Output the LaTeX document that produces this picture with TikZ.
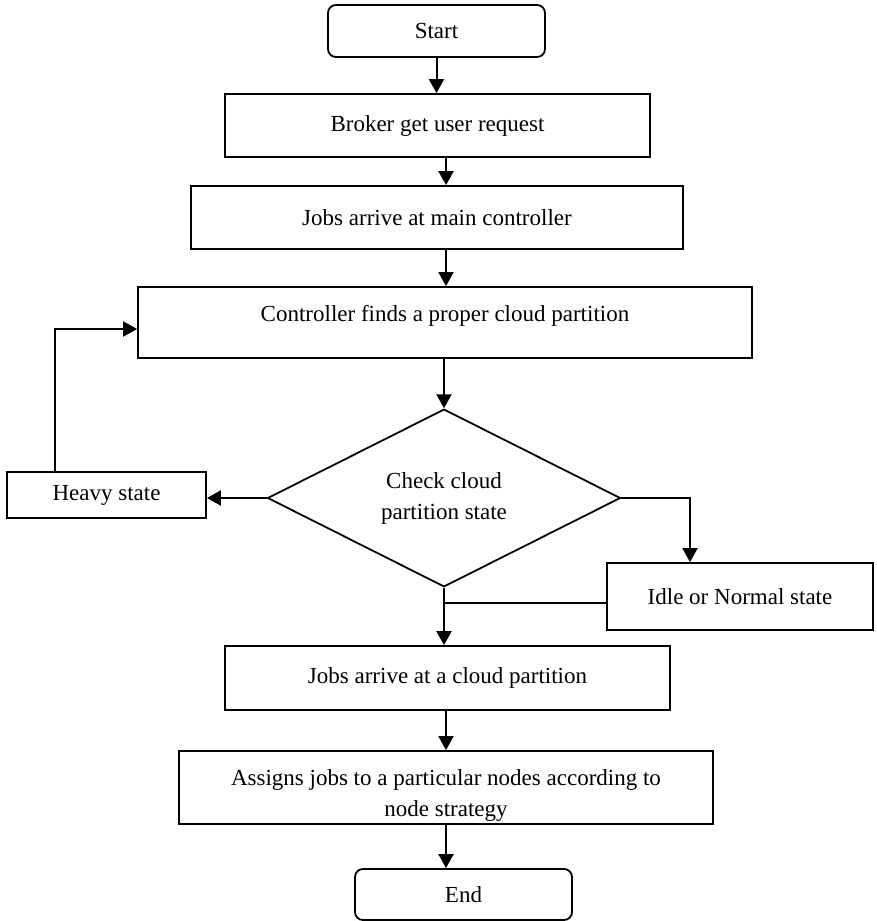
\documentclass[tikz,border=0pt]{standalone}
\usepackage{fontspec}
\setmainfont{Liberation Serif}
\usetikzlibrary{shapes.geometric,arrows.meta}

\begin{document}
\begin{tikzpicture}[x=1pt, y=-1pt,
    box/.style={draw, rectangle, line width=1.8pt, inner sep=0pt, align=center,
        font=\fontsize{23}{31}\selectfont},
    term/.style={box, rounded corners=8pt},
    decision/.style={draw, diamond, line width=1.8pt, inner sep=0pt, align=center,
        font=\fontsize{23}{31}\selectfont},
    arr/.style={line width=2pt, -{Triangle[length=14pt,width=15pt]}},
    plain/.style={line width=1.8pt}]
    \useasboundingbox (0,0) rectangle (876,921);

    % Main flow
    \node[term, minimum width=217pt, minimum height=52pt] (start) at (436.5,31) {Start};
    \node[box, minimum width=425pt, minimum height=63pt] (broker) at (437.5,125.5) {Broker get user request};
    \node[box, minimum width=492pt, minimum height=63pt] (jobs) at (437,217.5) {Jobs arrive at main controller};
    \node[box, minimum width=614pt, minimum height=71pt, text depth=19pt] (ctrl) at (445,322.5) {Controller finds a proper cloud partition};
    \node[decision, minimum width=353pt, minimum height=177pt] (check) at (444,498) {Check cloud\\partition state};
    \node[box, minimum width=445pt, minimum height=64pt] (part) at (447.5,678) {Jobs arrive at a cloud partition};
    \node[box, minimum width=534pt, minimum height=73pt, text height=62pt] (assign) at (446,787.5) {Assigns jobs to a particular nodes according to\\node strategy};
    \node[term, minimum width=217pt, minimum height=51pt] (end) at (463.5,894.5) {End};

    % States
    \node[box, minimum width=199pt, minimum height=46pt] (heavy) at (106.5,495) {Heavy state};
    \node[box, minimum width=266pt, minimum height=67pt] (idle) at (740,596.5) {Idle or Normal state};

    % Bends
    \coordinate (axis) at (446,0);
    \coordinate (loop) at (55,329);
    \coordinate (turn) at (690,498);
    \coordinate (join) at (444,603);

    % Arrows
    \draw[arr] (start.south) -- (start.south |- broker.north);
    \draw[arr] (broker.south -| axis) -- (jobs.north -| axis);
    \draw[arr] (jobs.south -| axis) -- (ctrl.north -| axis);
    \draw[arr] (check.north |- ctrl.south) -- (check.north);
    \draw[arr] (check.west) -- (check.west -| heavy.east);
    \draw[arr] (heavy.north -| loop) -- (loop) -- (loop -| ctrl.west);
    \draw[arr] (check.east) -- (turn) -- (turn |- idle.north);
    \draw[plain] (idle.west |- join) -- (join);
    \draw[arr] (check.south) -- (check.south |- part.north);
    \draw[arr] (part.south -| axis) -- (assign.north -| axis);
    \draw[arr] (assign.south -| axis) -- (end.north -| axis);
\end{tikzpicture}
\end{document}
